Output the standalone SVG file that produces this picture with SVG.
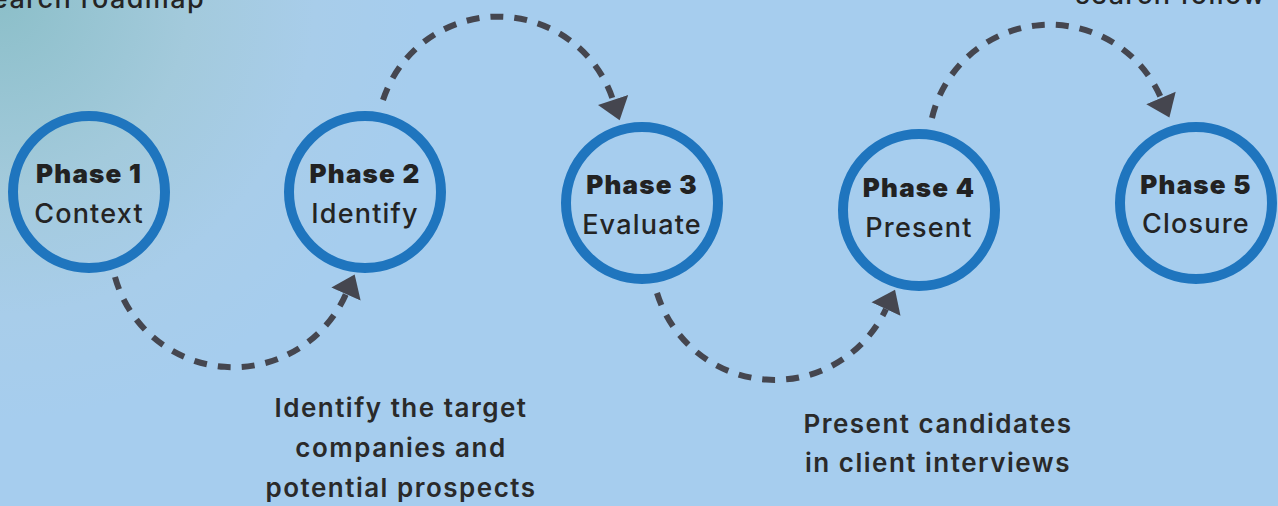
<svg xmlns="http://www.w3.org/2000/svg" width="1278" height="506" viewBox="0 0 1278 506">
  <defs>
    <radialGradient id="glow" gradientUnits="userSpaceOnUse" cx="0" cy="0" r="420">
      <stop offset="0" stop-color="#8CBFC9"/>
      <stop offset="0.45" stop-color="#A3CADC"/>
      <stop offset="0.75" stop-color="#A8CDEA"/>
      <stop offset="1" stop-color="#A6CDEE"/>
    </radialGradient>
    <marker id="arrow" markerUnits="userSpaceOnUse" markerWidth="22" markerHeight="32" viewBox="0 0 20 30" refX="0" refY="15" orient="auto">
      <path d="M0,0 L20,15 L0,30 Z" fill="#45464F"/>
    </marker>
    <style>
      .ring { fill: none; stroke: #1F75BE; stroke-width: 10; }
      .title { font-family: Inter, "Liberation Sans", sans-serif; font-weight: 900; font-size: 26px; letter-spacing: 1.2px; fill: #222222; text-anchor: middle; }
      .sub { font-family: Inter, "Liberation Sans", sans-serif; font-weight: 500; font-size: 27px; letter-spacing: 1.2px; fill: #242424; text-anchor: middle; }
      .note { font-family: Inter, "Liberation Sans", sans-serif; font-weight: 600; font-size: 26px; letter-spacing: 1.5px; fill: #2A2A2A; text-anchor: middle; }
      .head { font-family: Inter, "Liberation Sans", sans-serif; font-weight: 500; font-size: 27px; letter-spacing: 1.4px; fill: #242424; text-anchor: end; }
      .link { fill: none; stroke: #45464F; stroke-width: 6; stroke-dasharray: 13 11; marker-end: url(#arrow); }
    </style>
  </defs>

  <rect x="0" y="0" width="1278" height="506" fill="#A6CDEE"/>
  <rect x="0" y="0" width="1278" height="506" fill="url(#glow)"/>

  <text class="head" x="205" y="8">Search roadmap</text>
  <text class="head" x="1266" y="4">search follow</text>

  <g id="connectors">
    <path class="link" d="M115,277 A123,123 0 0 0 346,294"/>
    <path class="link" d="M383,100 A121,121 0 0 1 613,100"/>
    <path class="link" d="M657,293 A123,123 0 0 0 886,309"/>
    <path class="link" d="M932,118 A121,121 0 0 1 1161,98"/>
  </g>

  <g id="phase1">
    <circle class="ring" cx="89" cy="192" r="76"/>
    <text class="title" x="89" y="183">Phase 1</text>
    <text class="sub" x="89" y="223">Context</text>
  </g>
  <g id="phase2">
    <circle class="ring" cx="365" cy="192" r="76"/>
    <text class="title" x="365" y="183">Phase 2</text>
    <text class="sub" x="365" y="223">Identify</text>
  </g>
  <g id="phase3">
    <circle class="ring" cx="642" cy="203" r="76"/>
    <text class="title" x="642" y="194">Phase 3</text>
    <text class="sub" x="642" y="234">Evaluate</text>
  </g>
  <g id="phase4">
    <circle class="ring" cx="919" cy="210" r="76"/>
    <text class="title" x="919" y="197">Phase 4</text>
    <text class="sub" x="919" y="237">Present</text>
  </g>
  <g id="phase5">
    <circle class="ring" cx="1196" cy="203" r="76"/>
    <text class="title" x="1196" y="194">Phase 5</text>
    <text class="sub" x="1196" y="233">Closure</text>
  </g>

  <g id="note-identify">
    <text class="note" x="401" y="417">Identify the target</text>
    <text class="note" x="401" y="457">companies and</text>
    <text class="note" x="401" y="497">potential prospects</text>
  </g>
  <g id="note-present">
    <text class="note" x="938" y="433">Present candidates</text>
    <text class="note" x="938" y="472">in client interviews</text>
  </g>
</svg>
